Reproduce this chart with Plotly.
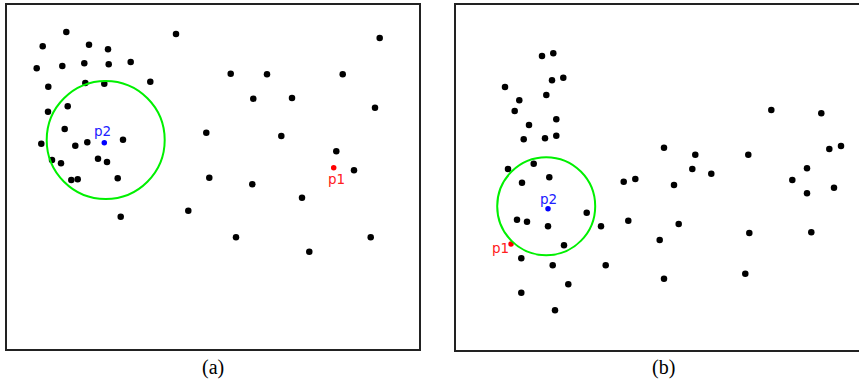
import plotly.graph_objects as go

# panel (a) points, panel-local units (x right, y down)
a_x = [59.3, 169, 35.7, 82, 101, 29.7, 55.3, 77.3, 101.7, 123.7, 41.3, 78.3, 97.3, 143.3,
       41, 60.7, 57.7, 34.3, 68.3, 80.3, 116, 199.3, 45, 54, 91, 100, 64.3, 70.7, 110.7,
       202.3, 113.7, 181.3, 372.7, 223.7, 260, 335.7, 246.3, 285, 368, 274.3, 329.3, 347,
       245.3, 295, 229, 363.7, 302.3]
a_y = [27, 29, 41.3, 39.7, 44.3, 63.3, 61, 58.3, 59.3, 57, 81.7, 78, 78.7, 76.7,
       106.7, 101.3, 124, 138.7, 140.7, 137.3, 134.7, 127.7, 155, 158.3, 153.7, 157, 175, 174.3, 173.3,
       172.7, 211.7, 205.7, 33, 68.7, 69.3, 69.3, 93.7, 93, 102.7, 131, 146.3, 165.3,
       179.3, 192.7, 232.3, 232.3, 246.7]

# panel (b) points
b_x = [86, 97.3, 96, 107.3, 49, 63.3, 90.3, 58.7, 100.3, 73, 67.7, 89, 100.3, 52, 77.7,
       93.3, 66, 167.7, 179.3, 315.3, 365.3, 208, 239.3, 292.3, 373.3, 385, 236.3, 255.3,
       351, 218, 336.3, 378, 351, 222.7, 203.7, 293.3, 355.3, 208, 289.3, 61, 71, 92,
       130.7, 145, 172.3, 108, 65.3, 96.7, 149.7, 112.3, 65.3, 99]
b_y = [51, 48.3, 75.3, 72.7, 82, 95.3, 90, 106, 114.3, 120, 134.3, 133.3, 130.7, 164, 158.7,
       172.3, 177.7, 176.7, 174, 105, 108.3, 142.7, 149.7, 149.7, 144, 141, 164, 168.7,
       163.3, 180, 175, 182.7, 188.3, 219, 235, 228, 227.3, 273.7, 268.7, 214.7, 216.7, 221.3,
       207.7, 221.3, 215.7, 240.3, 253.3, 260.3, 260.3, 279.3, 287.7, 305.3]

# special points p1 / p2
a_p1 = (326.7, 162.7)
a_p2 = (97.3, 137.7)
b_p1 = (55, 239)
b_p2 = (92, 203.7)

# circles (centre, radius)
a_circle = (98.7, 135, 59)
b_circle = (90.2, 201.2, 49)

panel_labels = ["(a)", "(b)"]

W, H = 859, 383
fig = go.Figure()

panels = [
    ("x", "y", a_x, a_y, a_p1, a_p2, a_circle),
    ("x2", "y2", b_x, b_y, b_p1, b_p2, b_circle),
]
for xr, yr, xs, ys, p1, p2, circ in panels:
    fig.add_trace(go.Scatter(x=xs, y=ys, mode="markers", xaxis=xr, yaxis=yr,
                             marker=dict(color="black", size=6.5), showlegend=False,
                             hoverinfo="skip"))
    fig.add_trace(go.Scatter(x=[p1[0]], y=[p1[1]], mode="markers", xaxis=xr, yaxis=yr,
                             marker=dict(color="red", size=5.5), showlegend=False,
                             hoverinfo="skip"))
    fig.add_trace(go.Scatter(x=[p2[0]], y=[p2[1]], mode="markers", xaxis=xr, yaxis=yr,
                             marker=dict(color="blue", size=5.5), showlegend=False,
                             hoverinfo="skip"))
    cx, cy, r = circ
    fig.add_shape(type="circle", xref=xr, yref=yr, x0=cx - r, x1=cx + r, y0=cy - r, y1=cy + r,
                  line=dict(color="#00f000", width=2))

lab = dict(family="DejaVu Sans", size=13.5)
fig.add_annotation(x=a_p2[0], y=a_p2[1], xref="x", yref="y", text="p2", showarrow=False,
                   font=dict(color="#2020ff", **lab), xshift=-1.5, yshift=12)
fig.add_annotation(x=a_p1[0], y=a_p1[1], xref="x", yref="y", text="p1", showarrow=False,
                   font=dict(color="#ff2020", **lab), xshift=2.5, yshift=-11)
fig.add_annotation(x=b_p2[0], y=b_p2[1], xref="x2", yref="y2", text="p2", showarrow=False,
                   font=dict(color="#2020ff", **lab), xshift=0.7, yshift=10)
fig.add_annotation(x=b_p1[0], y=b_p1[1], xref="x2", yref="y2", text="p1", showarrow=False,
                   font=dict(color="#ff2020", **lab), xshift=-11, yshift=-4)

# panel captions
for lbl, cx in zip(panel_labels, [213, 663]):
    fig.add_annotation(x=cx / W, y=1 - 367 / H, xref="paper", yref="paper", text=lbl,
                       xanchor="center", yanchor="middle", showarrow=False,
                       font=dict(family="Liberation Serif", size=20, color="black"))

ax = dict(showgrid=False, zeroline=False, showticklabels=False, ticks="",
          showline=True, mirror=True, linecolor="#222", linewidth=2, fixedrange=True)
fig.update_layout(
    width=W, height=H, margin=dict(l=0, r=0, t=0, b=0),
    paper_bgcolor="white", plot_bgcolor="white",
    xaxis=dict(domain=[7 / W, 419 / W], range=[0, 412], anchor="y", **ax),
    yaxis=dict(domain=[1 - 349 / H, 1 - 5 / H], range=[344, 0], anchor="x", **ax),
    # panel (b) runs off the right edge of the picture, so no right border
    xaxis2=dict(domain=[456 / W, 1], range=[0, 403], anchor="y2", **ax),
    yaxis2=dict(domain=[1 - 350 / H, 1 - 5 / H], range=[345, 0], anchor="x2",
                **{**ax, "mirror": False}),
)

# drop the default page margin so the figure sits at the window corner
fig.write_html("out.html", config={"displayModeBar": False},
               post_script="document.body.style.margin='0';")
